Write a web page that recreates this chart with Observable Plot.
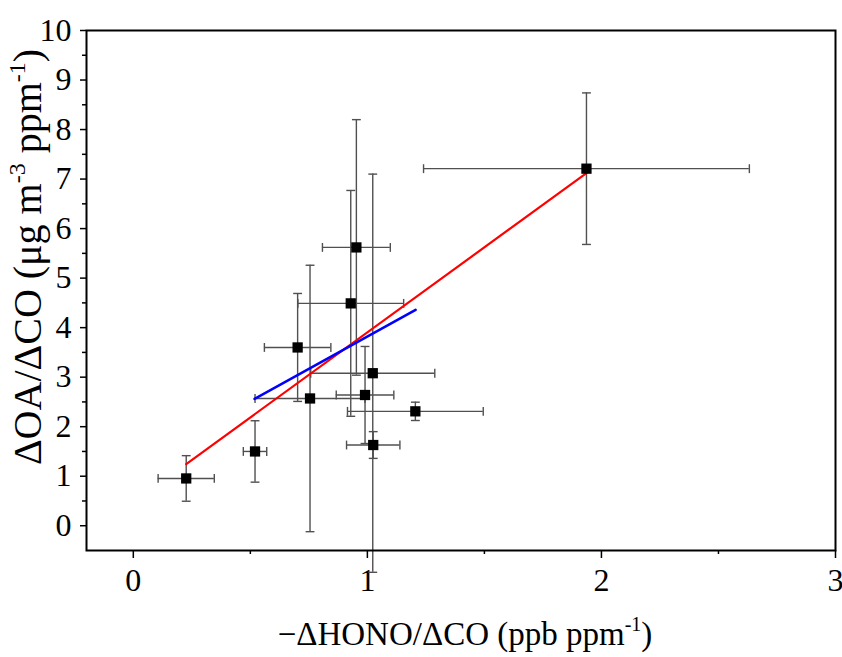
<!DOCTYPE html>
<html>
<head>
<meta charset="utf-8">
<script src="https://cdn.jsdelivr.net/npm/d3@7"></script>
<script src="https://cdn.jsdelivr.net/npm/@observablehq/plot@0.6"></script>
<style>
  html, body { margin: 0; padding: 0; background: white; }
  #chart svg { display: block; }
</style>
</head>
<body>
<div id="chart"></div>
<script>
// Data
const xVals = [0.226, 0.52, 0.702, 0.755, 0.929, 0.953, 0.99, 1.023, 1.025, 1.205, 1.936];
const yVals = [0.955, 1.50, 3.60, 2.57, 4.49, 5.62, 2.64, 3.08, 1.63, 2.31, 7.21];
const xErr  = [0.12, 0.05, 0.142, 0.235, 0.226, 0.145, 0.123, 0.265, 0.114, 0.29, 0.696];
const yErr  = [0.46, 0.62, 1.09, 2.69, 2.28, 2.58, 0.98, 4.02, 0.27, 0.185, 1.53];

// Fit lines (endpoints)
const redFitX = [0.226, 1.936];
const redFitY = [1.246, 7.12];
const blueFitX = [0.518, 1.206];
const blueFitY = [2.56, 4.36];

const xTicks = [0, 1, 2, 3];
const xMinorTicks = [0.5, 1.5, 2.5];
const yTicks = [0, 1, 2, 3, 4, 5, 6, 7, 8, 9, 10];
const yMinorTicks = [0.5, 1.5, 2.5, 3.5, 4.5, 5.5, 6.5, 7.5, 8.5, 9.5];

const points = xVals.map((x, i) => ({x, y: yVals[i], xe: xErr[i], ye: yErr[i]}));
const redLine = redFitX.map((x, i) => ({x, y: redFitY[i]}));
const blueLine = blueFitX.map((x, i) => ({x, y: blueFitY[i]}));

const capH = { draw(ctx, size) { const w = Math.sqrt(size); ctx.moveTo(-w / 2, 0); ctx.lineTo(w / 2, 0); } };
const capV = { draw(ctx, size) { const w = Math.sqrt(size); ctx.moveTo(0, -w / 2); ctx.lineTo(0, w / 2); } };

const errColor = "#505050";
const font = "'Liberation Serif', 'Times New Roman', serif";
const fmt = d3.format("d");

const chart = Plot.plot({
  width: 842,
  height: 657,
  marginLeft: 86,
  marginRight: 7,
  marginTop: 30,
  marginBottom: 107,
  x: {domain: [-0.2, 3]},
  y: {domain: [-0.5, 10]},
  style: {fontFamily: font, background: "white", color: "black", fontSize: "32px"},
  marks: [
    Plot.axisY(yMinorTicks, {tickSize: 4, strokeWidth: 1.5, text: null, label: null}),
    Plot.axisY(yTicks, {tickSize: 6, tickPadding: 9, strokeWidth: 1.5, fontSize: 32, tickFormat: fmt, label: null}),
    Plot.axisX(xMinorTicks, {tickSize: 4, strokeWidth: 1.5, text: null, label: null}),
    Plot.axisX(xTicks, {tickSize: 8, tickPadding: 10, strokeWidth: 1.5, fontSize: 32, tickFormat: fmt, label: null}),
    // error bars
    Plot.ruleX(points, {x: "x", y1: d => d.y - d.ye, y2: d => d.y + d.ye, stroke: errColor, strokeWidth: 1.4}),
    Plot.ruleY(points, {y: "y", x1: d => d.x - d.xe, x2: d => d.x + d.xe, stroke: errColor, strokeWidth: 1.4}),
    Plot.dot(points, {x: "x", y: d => d.y + d.ye, symbol: capH, r: 5, stroke: errColor, strokeWidth: 1.4, fill: "none"}),
    Plot.dot(points, {x: "x", y: d => d.y - d.ye, symbol: capH, r: 5, stroke: errColor, strokeWidth: 1.4, fill: "none"}),
    Plot.dot(points, {x: d => d.x - d.xe, y: "y", symbol: capV, r: 5, stroke: errColor, strokeWidth: 1.4, fill: "none"}),
    Plot.dot(points, {x: d => d.x + d.xe, y: "y", symbol: capV, r: 5, stroke: errColor, strokeWidth: 1.4, fill: "none"}),
    // fit lines
    Plot.line(redLine, {x: "x", y: "y", stroke: "#ff0000", strokeWidth: 2.2}),
    Plot.line(blueLine, {x: "x", y: "y", stroke: "#0000ff", strokeWidth: 2.6}),
    // markers
    Plot.dot(points, {x: "x", y: "y", symbol: "square", r: 5.8, fill: "black", stroke: "none"}),
    Plot.frame({stroke: "black", strokeWidth: 2})
  ]
});

document.getElementById("chart").appendChild(chart);

// Axis titles with superscripts
const svg = d3.select(chart);
const xl = svg.append("text")
  .attr("x", 465).attr("y", 645)
  .attr("text-anchor", "middle")
  .attr("font-family", font).attr("font-size", 33).attr("fill", "black");
xl.append("tspan").text("\u2212\u0394HONO/\u0394CO (ppb ppm");
xl.append("tspan").attr("dy", -14).attr("font-size", 20).text("-1");
xl.append("tspan").attr("dy", 14).text(")");

const yl = svg.append("text")
  .attr("transform", "translate(41,257) rotate(-90)")
  .attr("text-anchor", "middle")
  .attr("font-family", font).attr("font-size", 40).attr("fill", "black");
yl.append("tspan").text("\u0394OA/\u0394CO (\u03bcg m");
yl.append("tspan").attr("dy", -16).attr("font-size", 24).text("-3");
yl.append("tspan").attr("dy", 16).text(" ppm");
yl.append("tspan").attr("dy", -16).attr("font-size", 24).text("-1");
yl.append("tspan").attr("dy", 16).text(")");
</script>
</body>
</html>
